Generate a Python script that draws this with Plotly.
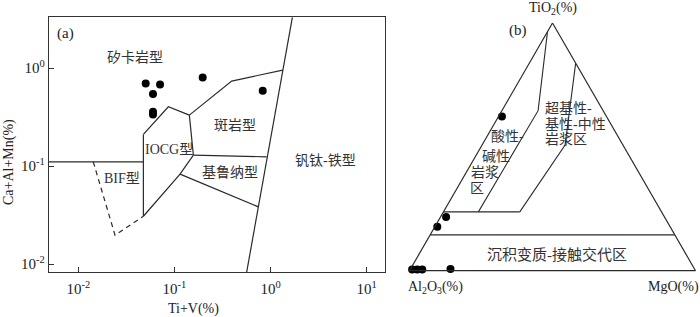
import plotly.graph_objects as go

# ---------------- Panel (a) data ----------------
sample_tiv = [0.0502, 0.0708, 0.0598, 0.0598, 0.0598, 0.1967, 0.828]
sample_caalmn = [0.697, 0.680, 0.542, 0.358, 0.335, 0.802, 0.586]

# field boundaries (Ti+V, Ca+Al+Mn)
bif_top_x = [0.00495, 0.0475]
bif_top_y = [0.1105, 0.1105]
iocg_left_x = [0.0475, 0.0475]
iocg_left_y = [0.0308, 0.210]
iocg_top_x = [0.0475, 0.0864, 0.1429]
iocg_top_y = [0.210, 0.4024, 0.3308]
iocg_right_x = [0.1429, 0.1573]
iocg_right_y = [0.3308, 0.1292]
iocg_low_x = [0.1573, 0.1143, 0.0475]
iocg_low_y = [0.1292, 0.0827, 0.0308]
porph_top_x = [0.1429, 0.394, 1.336]
porph_top_y = [0.3308, 0.7356, 0.953]
porph_kir_x = [0.1573, 0.911]
porph_kir_y = [0.1292, 0.1243]
kir_low_x = [0.1143, 0.746]
kir_low_y = [0.0827, 0.0384]
vti_x = [1.684, 0.564]
vti_y = [3.29, 0.00832]
bif_dash_x = [0.0143, 0.0241, 0.0475]
bif_dash_y = [0.1105, 0.0197, 0.0308]

x_tickvals = [0.01, 0.1, 1, 10]
x_ticktext = ["10<sup>-2</sup>", "10<sup>-1</sup>", "10<sup>0</sup>", "10<sup>1</sup>"]
y_tickvals = [0.01, 0.1, 1]
y_ticktext = ["10<sup>-2</sup>", "10<sup>-1</sup>", "10<sup>0</sup>"]

# ---------------- Panel (b) data ----------------
tern_tio2 = [0.6221, 0.2164, 0.1778, 0.0048, 0.0048, 0.0048, 0.0068]
tern_al2o3 = [0.3657, 0.7639, 0.8139, 0.9884, 0.9708, 0.9531, 0.8533]
tern_mgo = [0.0122, 0.0197, 0.0083, 0.0068, 0.0244, 0.0421, 0.1399]

l1_a = [0.965, 0.646, 0.2375]
l1_b = [0.035, 0.2274, 0.6404]
l1_c = [0.0, 0.1266, 0.1221]
h1_a = [0.2375, 0.2375]
h1_b = [0.7625, 0.4957]
h1_c = [0.0, 0.2668]
l2_a = [0.838, 0.5068, 0.2375]
l2_b = [0.0, 0.2026, 0.4957]
l2_c = [0.162, 0.2906, 0.2668]
h2_a = [0.1448, 0.1448]
h2_b = [0.8552, 0.0]
h2_c = [0.0, 0.8552]

W, H = 700, 317
SERIF = "Liberation Serif, Noto Sans CJK SC, serif"
LC = "#2a2a2a"

fig = go.Figure()

def cline(x, y, dash="solid"):
    fig.add_trace(go.Scatter(x=x, y=y, mode="lines",
                             line=dict(color=LC, width=1.2, dash=dash),
                             hoverinfo="skip", showlegend=False))

for xs, ys in [(bif_top_x, bif_top_y), (iocg_left_x, iocg_left_y),
               (iocg_top_x, iocg_top_y), (iocg_right_x, iocg_right_y),
               (iocg_low_x, iocg_low_y), (porph_top_x, porph_top_y),
               (porph_kir_x, porph_kir_y), (kir_low_x, kir_low_y),
               (vti_x, vti_y)]:
    cline(xs, ys)
cline(bif_dash_x, bif_dash_y, dash="5px,4px")

fig.add_trace(go.Scatter(x=sample_tiv, y=sample_caalmn, mode="markers",
                         marker=dict(color="black", size=8),
                         showlegend=False, cliponaxis=False))

def tline(a, b, c):
    fig.add_trace(go.Scatterternary(a=a, b=b, c=c, mode="lines",
                                    line=dict(color=LC, width=1.1),
                                    hoverinfo="skip", showlegend=False))

tline(l1_a, l1_b, l1_c)
tline(h1_a, h1_b, h1_c)
tline(l2_a, l2_b, l2_c)
tline(h2_a, h2_b, h2_c)

fig.add_trace(go.Scatterternary(a=tern_tio2, b=tern_al2o3, c=tern_mgo,
                                mode="markers",
                                marker=dict(color="black", size=8),
                                showlegend=False, cliponaxis=False))

axis_common = dict(showgrid=False, zeroline=False, showline=True, mirror=True,
                   linecolor="#333", linewidth=1.3, ticks="inside", ticklen=5,
                   tickcolor="#333", tickwidth=1,
                   tickfont=dict(family=SERIF, size=15, color="#222"))

tern_axis = dict(showgrid=False, showticklabels=False, ticks="",
                 linecolor=LC, linewidth=1.2, title=dict(text=""))

fig.update_layout(
    width=W, height=H, margin=dict(l=0, r=0, t=0, b=0),
    paper_bgcolor="white", plot_bgcolor="white", showlegend=False,
    xaxis=dict(type="log", range=[-2.305, 1.19], domain=[49 / W, 385 / W],
               tickvals=x_tickvals, ticktext=x_ticktext, ticklabelstandoff=3,
               **axis_common),
    yaxis=dict(type="log", range=[-2.08, 0.52], domain=[(H - 272) / H, (H - 17) / H],
               tickvals=y_tickvals, ticktext=y_ticktext, **axis_common),
    ternary=dict(sum=1, bgcolor="white",
                 domain=dict(x=[409.5 / W, 695.5 / W], y=[(H - 270.7) / H, (H - 23) / H]),
                 aaxis=tern_axis, baxis=tern_axis, caxis=tern_axis),
)

def ann(text, px, py, size=13, angle=0, color="#333"):
    fig.add_annotation(text=text, x=px / W, y=1 - py / H, xref="paper", yref="paper",
                       showarrow=False, textangle=angle, xanchor="center", yanchor="middle",
                       font=dict(family=SERIF, size=size, color=color))

# panel (a) labels
ann("(a)", 65, 33, 15, color="#222")
ann("矽卡岩型", 134.7, 57.3, 14)
ann("斑岩型", 235, 126, 14)
ann("IOCG型", 169, 150, 14)
ann("基鲁纳型", 230, 171.7, 14)
ann("钒钛-铁型", 325, 160, 14)
ann("BIF型", 121.7, 178.3, 14)
ann("Ti+V(%)", 193.3, 308.5, 14, color="#222")
ann("Ca+Al+Mn(%)", 9, 162, 14, angle=-90, color="#222")

# panel (b) labels
ann("(b)", 518.3, 30.7, 15, color="#222")
ann("TiO<sub>2</sub>(%)", 552.7, 8.5, 14, color="#222")
ann("Al<sub>2</sub>O<sub>3</sub>(%)", 435, 287, 14, color="#222")
ann("MgO(%)", 673.3, 287, 14, color="#222")
ann("酸性-", 507.3, 136.7, 14)
ann("碱性", 495.7, 156, 14)
ann("岩浆", 485, 172.7, 14)
ann("区", 476.7, 188, 14)
for txt, py in [("超基性-", 108.3), ("基性-中性", 123.8), ("岩浆区", 139.8)]:
    fig.add_annotation(text=txt, x=543 / W, y=1 - py / H, xref="paper", yref="paper",
                       showarrow=False, xanchor="left", yanchor="middle",
                       font=dict(family=SERIF, size=14, color="#333"))
ann("沉积变质-接触交代区", 556.7, 254.3, 15)

fig.write_html("out.html", config={"displayModeBar": False},
               post_script="document.body.style.margin='0';document.body.style.padding='0';")
